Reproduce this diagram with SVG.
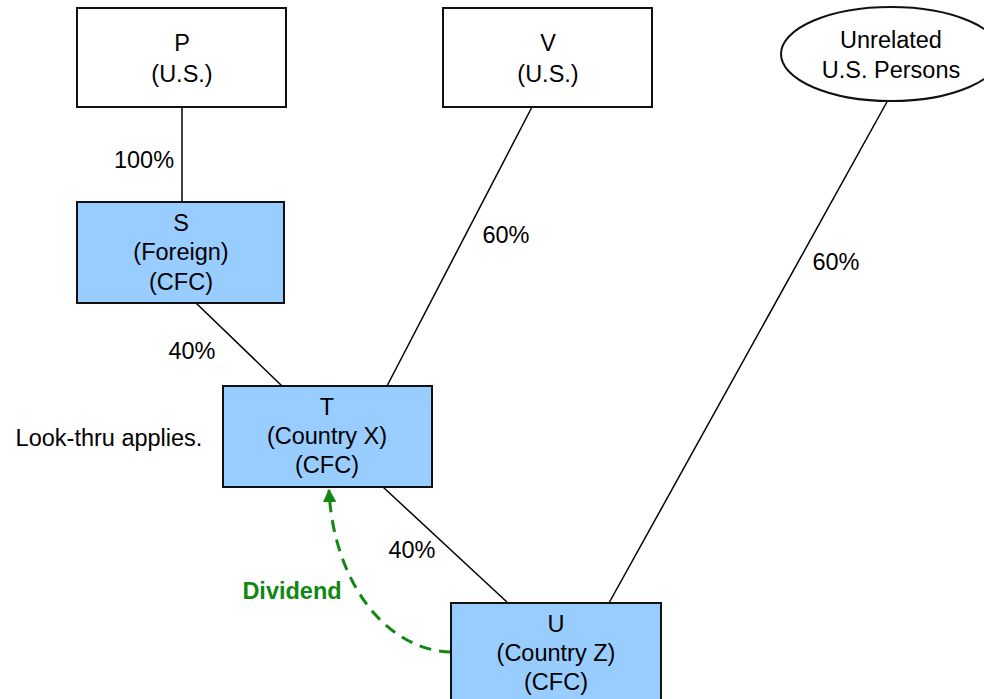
<svg xmlns="http://www.w3.org/2000/svg" width="984" height="699" viewBox="0 0 984 699">
<defs>
<style>
text{font-family:"Liberation Sans",Arial,sans-serif;font-size:23.5px;fill:#000;text-anchor:middle}
.box{fill:#fff;stroke:#111;stroke-width:2}
.cfc{fill:#99ccff;stroke:#111;stroke-width:2}
.ln{stroke:#000;stroke-width:1.5;fill:none}
.div{stroke:#118811;stroke-width:3;fill:none;stroke-dasharray:12 8}
.green{fill:#118811;font-weight:bold}
</style>
<marker id="ah" viewBox="0 0 10 10" refX="9" refY="5" markerWidth="4.5" markerHeight="4.5" orient="auto" markerUnits="strokeWidth">
<path d="M0,0 L10,5 L0,10 Z" fill="#118811"/>
</marker>
</defs>
<rect width="984" height="699" fill="#fff"/>
<g id="connectors">
<line class="ln" x1="182" y1="107" x2="182" y2="202"/>
<line class="ln" x1="196" y1="303" x2="282" y2="386"/>
<line class="ln" x1="532" y1="107" x2="387" y2="386"/>
<line class="ln" x1="383" y1="487" x2="508" y2="603"/>
<line class="ln" x1="888" y1="100" x2="609" y2="603"/>
<path class="div" d="M451,652 C383,650 333,578 329,490" marker-end="url(#ah)"/>
<text x="144" y="168">100%</text>
<text x="192" y="359">40%</text>
<text x="506" y="243">60%</text>
<text x="836" y="270">60%</text>
<text x="412" y="558">40%</text>
<text class="green" x="292" y="599">Dividend</text>
</g>
<g id="P">
<rect class="box" x="77" y="8" width="209" height="99"/>
<text x="182" y="51">P</text>
<text x="182" y="82">(U.S.)</text>
</g>
<g id="V">
<rect class="box" x="443" y="8" width="209" height="99"/>
<text x="548" y="51">V</text>
<text x="548" y="82">(U.S.)</text>
</g>
<g id="Unrelated">
<ellipse class="box" cx="891" cy="54" rx="110" ry="47"/>
<text x="891" y="48">Unrelated</text>
<text x="891" y="78">U.S. Persons</text>
</g>
<g id="S">
<rect class="cfc" x="77" y="202" width="207" height="101"/>
<text x="181" y="231">S</text>
<text x="181" y="260">(Foreign)</text>
<text x="181" y="290">(CFC)</text>
</g>
<g id="T">
<rect class="cfc" x="223" y="386" width="209" height="101"/>
<text x="327" y="415">T</text>
<text x="327" y="444">(Country X)</text>
<text x="327" y="473">(CFC)</text>
</g>
<g id="U">
<rect class="cfc" x="451" y="603" width="210" height="101"/>
<text x="556" y="632">U</text>
<text x="556" y="661">(Country Z)</text>
<text x="556" y="690">(CFC)</text>
</g>
<g id="note">
<text x="109" y="446">Look-thru applies.</text>
</g>
</svg>
